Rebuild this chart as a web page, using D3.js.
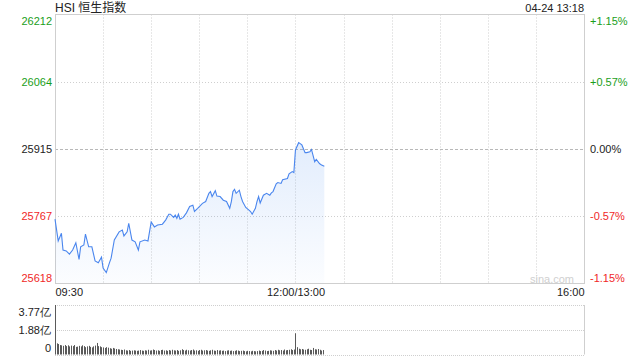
<!DOCTYPE html>
<html>
<head>
<meta charset="utf-8">
<script src="https://cdn.jsdelivr.net/npm/d3@7"></script>
<style>
  body { margin: 0; background: #fff; }
  svg { display: block; font-family: Arial, "Liberation Sans", "Noto Sans CJK SC", sans-serif; }
</style>
</head>
<body>
<script>
(function() {
  'use strict';

  // price ticks (left) and matching percent labels (right)
  const priceTicks = [26212, 26064, 25915, 25767, 25618];
  const pctLabels = ['+1.15%', '+0.57%', '0.00%', '-0.57%', '-1.15%'];
  const prevClose = 25915;

  // time axis
  const timeTicks = [0, 150, 330];
  const timeLabels = ['09:30', '12:00/13:00', '16:00'];

  // intraday points
  const times = ['09:30','09:32','09:34','09:35','09:37','09:39','09:41','09:43','09:45','09:46',
    '09:48','09:49','09:51','09:53','09:55','09:57','09:59','10:00','10:02','10:04',
    '10:05','10:07','10:10','10:12','10:13','10:15','10:16','10:18','10:20','10:22',
    '10:23','10:26','10:28','10:30','10:32','10:34','10:37','10:39','10:41','10:42',
    '10:44','10:45','10:46','10:47','10:48','10:50','10:52','10:54','10:56','10:57',
    '10:59','11:02','11:04','11:06','11:07','11:08','11:10','11:11','11:13','11:15',
    '11:17','11:19','11:20','11:21','11:22','11:23','11:25','11:26','11:27','11:29',
    '11:31','11:32','11:33','11:35','11:36','11:37','11:38','11:40','11:42','11:44',
    '11:45','11:46','11:48','11:49','11:51','11:52','11:55','11:56','11:58','11:59',
    '13:00','13:02','13:04','13:06','13:07','13:09','13:10','13:12','13:13','13:15',
    '13:16','13:18'];
  const prices = [25760,25712,25729,25692,25690,25683,25692,25708,25671,25699,
    25703,25727,25699,25699,25668,25664,25676,25652,25642,25664,
    25674,25714,25732,25736,25723,25732,25751,25714,25710,25692,
    25710,25714,25712,25754,25743,25747,25749,25758,25771,25771,
    25764,25769,25762,25771,25760,25764,25774,25788,25791,25777,
    25784,25795,25799,25817,25821,25810,25823,25811,25810,25802,
    25799,25784,25799,25821,25826,25817,25824,25810,25799,25786,
    25780,25777,25771,25784,25799,25810,25796,25813,25817,25813,
    25818,25821,25838,25841,25839,25847,25850,25860,25865,25863,
    25913,25929,25924,25907,25907,25909,25914,25887,25892,25883,
    25880,25877];

  // per-minute volume (亿), 09:30 onwards, 13:00 continues after 11:59
  const volumes = [3.77,
    0.85,0.80,0.72,0.70,0.66,0.72,0.64,0.70,0.62,0.68,
    0.64,0.72,0.58,0.60,0.66,0.62,0.70,0.64,0.56,0.62,
    0.66,0.58,0.54,0.62,0.68,0.88,0.64,0.62,0.56,0.54,
    0.50,0.56,0.52,0.48,0.44,0.50,0.46,0.42,0.40,0.38,
    0.36,0.34,0.38,0.32,0.30,0.34,0.28,0.30,0.32,0.30,
    0.28,0.30,0.34,0.30,0.28,0.32,0.30,0.36,0.30,0.32,
    0.38,0.34,0.30,0.32,0.28,0.34,0.36,0.30,0.32,0.28,
    0.34,0.30,0.36,0.32,0.30,0.34,0.28,0.32,0.40,0.34,
    0.30,0.36,0.32,0.30,0.34,0.38,0.30,0.32,0.28,0.34,
    0.36,0.30,0.32,0.34,0.30,0.28,0.32,0.36,0.30,0.28,
    0.34,0.30,0.32,0.28,0.30,0.26,0.30,0.32,0.28,0.30,
    0.26,0.28,0.32,0.30,0.26,0.28,0.30,0.26,0.24,0.28,
    0.26,0.24,0.28,0.26,0.24,0.26,0.30,0.26,0.28,0.34,
    0.30,0.26,0.28,0.32,0.30,0.28,0.34,0.30,0.36,0.32,
    0.34,0.30,0.38,0.32,0.34,0.36,0.40,0.34,0.38,
    1.62,0.56,0.44,0.40,0.42,0.38,0.36,0.40,0.44,0.36,
    0.34,0.50,0.40,0.38,0.42,0.36,0.30,0.34];
  const volTicks = [3.77, 1.88, 0];
  const volLabels = ['3.77亿', '1.88亿', '0'];

  const w = 640;
  const h = 360;
  const left = 55;
  const right = 584;
  const top = 14.5;
  const bottom = 283.5;
  const volTop = 305;
  const volBottom = 354.5;

  const green = '#1a9e1a';
  const red = '#f02828';
  const grid = '#cfcfcf';

  function toMinute(t) {
    const hh = +t.slice(0, 2);
    const mm = +t.slice(3, 5);
    const m = hh * 60 + mm;
    return m >= 13 * 60 ? 150 + (m - 13 * 60) : m - (9 * 60 + 30);
  }

  const series = times.map((t, i) => ({ m: toMinute(t), p: prices[i] }));

  const x = d3.scaleLinear().domain([0, 330]).range([left, right]);
  const y = d3.scaleLinear()
    .domain([d3.min(priceTicks), d3.max(priceTicks)])
    .range([bottom, top]);
  const yv = d3.scaleLinear().domain([0, d3.max(volTicks)]).range([volBottom, volTop]);

  const svg = d3.select('body').append('svg')
    .attr('width', w)
    .attr('height', h);

  function colorFor(v) {
    if (v > prevClose) return green;
    if (v < prevClose) return red;
    return '#222';
  }

  // title and time stamp
  svg.append('text')
    .attr('x', left).attr('y', 12)
    .attr('font-size', 12).attr('fill', '#222')
    .text('HSI 恒生指数');
  svg.append('text')
    .attr('x', right).attr('y', 12)
    .attr('text-anchor', 'end')
    .attr('font-size', 11).attr('fill', '#222')
    .text('04-24 13:18');

  // grid for price panel
  const vGrid = d3.range(30, 330, 30);
  svg.append('g').selectAll('line')
    .data(vGrid).enter().append('line')
    .attr('x1', d => Math.round(x(d)) + 0.5).attr('x2', d => Math.round(x(d)) + 0.5)
    .attr('y1', top).attr('y2', bottom)
    .attr('stroke', grid).attr('stroke-dasharray', '1,2');
  svg.append('g').selectAll('line')
    .data(priceTicks.slice(1, -1)).enter().append('line')
    .attr('x1', left).attr('x2', right)
    .attr('y1', d => Math.round(y(d)) + 0.5).attr('y2', d => Math.round(y(d)) + 0.5)
    .attr('stroke', d => d === prevClose ? '#b8b8b8' : grid)
    .attr('stroke-dasharray', d => d === prevClose ? '3,2' : '1,2');
  svg.append('rect')
    .attr('x', left + 0.5).attr('y', top)
    .attr('width', right - left).attr('height', bottom - top)
    .attr('fill', 'none').attr('stroke', '#cfcfcf');

  // watermark
  svg.append('text')
    .attr('x', 552).attr('y', 283)
    .attr('text-anchor', 'middle')
    .attr('font-size', 11).attr('fill', '#d0d0d0')
    .text('sina.com');

  // area + line
  const grad = svg.append('defs').append('linearGradient')
    .attr('id', 'fillGrad').attr('x1', 0).attr('y1', 0).attr('x2', 0).attr('y2', 1);
  grad.append('stop').attr('offset', '0%').attr('stop-color', '#4d8ff0').attr('stop-opacity', 0.16);
  grad.append('stop').attr('offset', '100%').attr('stop-color', '#4d8ff0').attr('stop-opacity', 0.02);

  const area = d3.area()
    .x(d => x(d.m))
    .y0(bottom)
    .y1(d => y(d.p));
  svg.append('path')
    .datum(series)
    .attr('d', area)
    .attr('fill', 'url(#fillGrad)');

  const line = d3.line()
    .x(d => x(d.m))
    .y(d => y(d.p));
  svg.append('path')
    .datum(series)
    .attr('d', line)
    .attr('fill', 'none')
    .attr('stroke', '#4a86ee')
    .attr('stroke-width', 1.1);

  // left price axis
  const yAxisL = svg.append('g')
    .attr('transform', 'translate(' + (left - 3) + ',0)')
    .call(d3.axisLeft(y).tickValues(priceTicks).tickSize(0).tickPadding(0).tickFormat(d3.format('d')));
  yAxisL.select('.domain').remove();
  yAxisL.selectAll('text')
    .attr('font-size', 11)
    .attr('font-family', 'Arial, "Liberation Sans", sans-serif')
    .attr('fill', d => colorFor(d))
    .attr('dy', (d, i) => i === 0 ? '0.9em' : (i === priceTicks.length - 1 ? '-0.2em' : '0.32em'));

  // right percent axis
  const yAxisR = svg.append('g')
    .attr('transform', 'translate(' + (right + 6) + ',0)')
    .call(d3.axisRight(y).tickValues(priceTicks).tickSize(0).tickPadding(0)
      .tickFormat((d, i) => pctLabels[i]));
  yAxisR.select('.domain').remove();
  yAxisR.selectAll('text')
    .attr('font-size', 11)
    .attr('font-family', 'Arial, "Liberation Sans", sans-serif')
    .attr('fill', d => colorFor(d))
    .attr('dy', (d, i) => i === 0 ? '0.9em' : (i === priceTicks.length - 1 ? '-0.2em' : '0.32em'));

  // time axis
  const xAxis = svg.append('g')
    .attr('transform', 'translate(0,' + bottom + ')')
    .call(d3.axisBottom(x).tickValues(timeTicks).tickSize(0).tickPadding(5)
      .tickFormat((d, i) => timeLabels[i]));
  xAxis.select('.domain').remove();
  xAxis.selectAll('text')
    .attr('font-size', 11)
    .attr('font-family', 'Arial, "Liberation Sans", sans-serif')
    .attr('fill', '#222')
    .attr('text-anchor', (d, i) => i === 0 ? 'start' : (i === timeTicks.length - 1 ? 'end' : 'middle'));

  // volume panel
  svg.append('g').selectAll('line')
    .data(volTicks).enter().append('line')
    .attr('x1', left).attr('x2', right)
    .attr('y1', d => Math.round(yv(d)) + 0.5).attr('y2', d => Math.round(yv(d)) + 0.5)
    .attr('stroke', grid).attr('stroke-dasharray', '1,1');
  svg.append('line')
    .attr('x1', right + 0.5).attr('x2', right + 0.5)
    .attr('y1', volTop).attr('y2', volBottom)
    .attr('stroke', '#cfcfcf');
  svg.append('line')
    .attr('x1', left + 0.5).attr('x2', left + 0.5)
    .attr('y1', volTop).attr('y2', volBottom)
    .attr('stroke', '#cfcfcf');

  svg.append('g').selectAll('rect')
    .data(volumes).enter().append('rect')
    .attr('x', (d, i) => Math.round(x(i)))
    .attr('y', d => yv(d))
    .attr('width', 1)
    .attr('height', d => volBottom - yv(d))
    .attr('fill', '#5a5a5a');

  const vAxis = svg.append('g')
    .attr('transform', 'translate(' + (left - 4) + ',0)')
    .call(d3.axisLeft(yv).tickValues(volTicks).tickSize(0).tickPadding(0)
      .tickFormat((d, i) => volLabels[i]));
  vAxis.select('.domain').remove();
  vAxis.selectAll('text')
    .attr('font-size', 11)
    .attr('fill', '#222')
    .attr('dy', (d, i) => i === 0 ? '0.95em' : (i === volTicks.length - 1 ? '-0.25em' : '0.32em'));
}());
</script>
</body>
</html>
